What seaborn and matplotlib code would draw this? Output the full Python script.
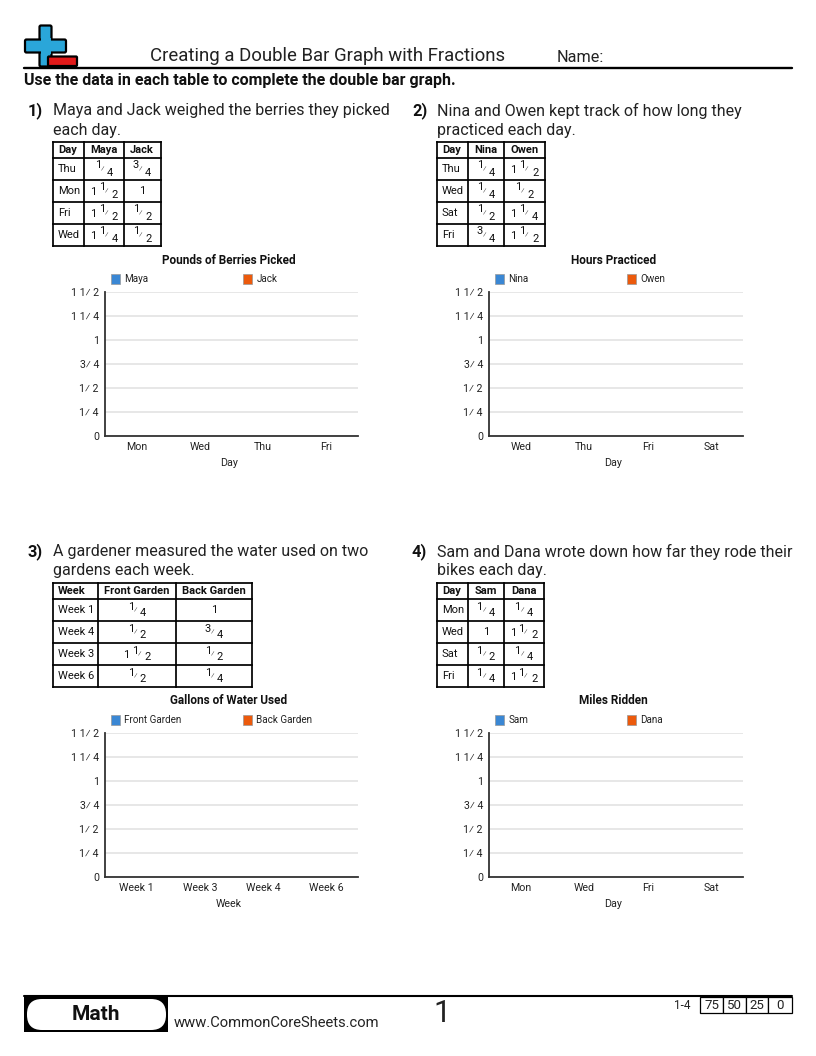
import pandas as pd
import numpy as np
import matplotlib
matplotlib.use('Agg')
import matplotlib.pyplot as plt
from matplotlib.patches import Rectangle, FancyBboxPatch
import seaborn as sns

sns.set_theme(style='white')
plt.rcParams['font.family'] = ['Roboto', 'DejaVu Sans']

W, H = 816, 1056
BLUE = '#3a87d4'
ORANGE = '#ec5a0c'
ICON_BLUE = '#2aa6d9'

# questions
questions = [
    ['Maya and Jack weighed the berries they picked', 'each day.'],
    ['Nina and Owen kept track of how long they', 'practiced each day.'],
    ['A gardener measured the water used on two', 'gardens each week.'],
    ['Sam and Dana wrote down how far they rode their', 'bikes each day.'],
]

# tables, fractions as strings
headers = [['Day', 'Maya', 'Jack'], ['Day', 'Nina', 'Owen'],
           ['Week', 'Front Garden', 'Back Garden'], ['Day', 'Sam', 'Dana']]
row_names = [['Thu', 'Mon', 'Fri', 'Wed'], ['Thu', 'Wed', 'Sat', 'Fri'],
             ['Week 1', 'Week 4', 'Week 3', 'Week 6'], ['Mon', 'Wed', 'Sat', 'Fri']]
col_a = [['1/4', '1 1/2', '1 1/2', '1 1/4'], ['1/4', '1/4', '1/2', '3/4'],
         ['1/4', '1/2', '1 1/2', '1/2'], ['1/4', '1', '1/2', '1/4']]
col_b = [['3/4', '1', '1/2', '1/2'], ['1 1/2', '1/2', '1 1/4', '1 1/2'],
         ['1', '3/4', '1/2', '1/4'], ['1/4', '1 1/2', '1/4', '1 1/2']]

# charts (blank on purpose, the student fills the bars in)
chart_titles = ['Pounds of Berries Picked', 'Hours Practiced', 'Gallons of Water Used', 'Miles Ridden']
x_names = ['Day', 'Day', 'Week', 'Day']
chart_cats = [['Mon', 'Wed', 'Thu', 'Fri'], ['Wed', 'Thu', 'Fri', 'Sat'],
              ['Week 1', 'Week 3', 'Week 4', 'Week 6'], ['Mon', 'Wed', 'Fri', 'Sat']]
bars_a = [0, 0, 0, 0]
bars_b = [0, 0, 0, 0]
y_ticks = [0, 0.25, 0.5, 0.75, 1, 1.25, 1.5]
y_labels = ['0', '1\u2044 4', '1\u2044 2', '3\u2044 4', '1', '1 1\u2044 4', '1 1\u2044 2']

# pixel placement of the four blocks
num_x = [28, 412, 28, 412]
text_x = [53, 437, 53, 437]
text_y = [110.5, 110.5, 551.5, 551.5]
col_edges = [[53, 84, 124, 160.5], [437, 468, 504, 544.5], [53, 98, 176, 252], [437, 468, 503.5, 543.5]]
row_tops = [142, 583]
row_steps = [0, 16, 38, 60, 82, 104]
plot_boxes = [(105, 292, 358, 436), (489, 292, 743, 436), (105, 733, 358, 877), (489, 733, 743, 877)]
legend_x = [(110.5, 242.5), (494.5, 626.5), (110.5, 242.5), (494.5, 626.5)]

fig = plt.figure(figsize=(W / 100, H / 100), dpi=100, facecolor='white')
page = fig.add_axes([0, 0, 1, 1], zorder=5)
page.set_xlim(0, W)
page.set_ylim(H, 0)
page.axis('off')
page.patch.set_alpha(0)


def fraction(x, y, s, size=8):
    # draws "1 1/2" or "1/4" around the cell centre x
    parts = s.split(' ')
    if '/' not in s:
        page.text(x, y, s, ha='center', va='center', fontsize=size, color='#111111')
        return
    a, b = parts[-1].split('/')
    if len(parts) == 2:
        page.text(x - 10.7, y + 1, parts[0], ha='center', va='center', fontsize=size, color='#111111')
        nx, sx, dx = x - 2, x + 2.5, x + 11
    else:
        nx, sx, dx = x - 6.3, x - 1.3, x + 6
    page.text(nx, y - 3.5, a, ha='center', va='center', fontsize=size, color='#111111')
    page.text(sx, y + 0.5, '\u2044', ha='center', va='center', fontsize=size - 2.5, color='#333333')
    page.text(dx, y + 3.5, b, ha='center', va='center', fontsize=size, color='#111111')


def draw_table(i):
    xs = col_edges[i]
    top = row_tops[i // 2]
    ys = [top + s for s in row_steps]
    for x in xs:
        page.plot([x, x], [ys[0], ys[-1]], color='black', lw=1.25, solid_capstyle='projecting')
    for y in ys:
        page.plot([xs[0], xs[-1]], [y, y], color='black', lw=1.25, solid_capstyle='projecting')
    for j, h in enumerate(headers[i]):
        if j == 0:
            page.text(xs[0] + 5, (ys[0] + ys[1]) / 2, h, ha='left', va='center', fontsize=8, fontweight='bold', color='#111111')
        else:
            page.text((xs[j] + xs[j + 1]) / 2, (ys[0] + ys[1]) / 2, h, ha='center', va='center', fontsize=8, fontweight='bold', color='#111111')
    for r in range(4):
        cy = (ys[r + 1] + ys[r + 2]) / 2
        page.text(xs[0] + 5, cy, row_names[i][r], ha='left', va='center', fontsize=8, color='#111111')
        fraction((xs[1] + xs[2]) / 2, cy, col_a[i][r])
        fraction((xs[2] + xs[3]) / 2, cy, col_b[i][r])


def draw_chart(i):
    x0, y0, x1, y1 = plot_boxes[i]
    ax = fig.add_axes([x0 / W, 1 - y1 / H, (x1 - x0) / W, (y1 - y0) / H])
    df = pd.DataFrame({
        'cat': chart_cats[i] * 2,
        'who': [headers[i][1]] * 4 + [headers[i][2]] * 4,
        'val': bars_a + bars_b,
    })
    sns.barplot(data=df, x='cat', y='val', hue='who', palette=[BLUE, ORANGE], ax=ax, legend=False)
    ax.set_ylim(0, 1.5)
    ax.set_yticks(y_ticks)
    ax.set_yticklabels(y_labels, fontsize=7.7, color='#222222')
    ax.tick_params(axis='x', labelsize=7.7, labelcolor='#222222', length=0, pad=4.5)
    ax.tick_params(axis='y', length=0, pad=4.4)
    ax.set_xlabel(x_names[i], fontsize=7.7, color='#222222')
    ax.xaxis.set_label_coords(0.49, -0.155)
    ax.set_ylabel('')
    ax.yaxis.grid(True, color='#e0e0e0', lw=1.1)
    ax.set_axisbelow(True)
    sns.despine(ax=ax)
    for side in ['left', 'bottom']:
        ax.spines[side].set_color('#333333')
        ax.spines[side].set_linewidth(1.3)
    mid = (x0 + x1) / 2 - 2.5
    page.text(mid, y0 - 32, chart_titles[i], ha='center', va='center', fontsize=8.5, fontweight='bold', color='#111111')
    lx = legend_x[i]
    for k, c in enumerate([BLUE, ORANGE]):
        page.add_patch(Rectangle((lx[k], y0 - 18), 9.5, 9.5, facecolor=c, edgecolor='#999999', lw=0.5))
        page.text(lx[k] + 14, y0 - 13, headers[i][k + 1], ha='left', va='center', fontsize=7.1, color='#222222')


# header icon
page.add_patch(FancyBboxPatch((41, 27), 9, 38, boxstyle='round,pad=1.5', fc=ICON_BLUE, ec='black', lw=1.6))
page.add_patch(FancyBboxPatch((26.5, 41), 38, 10, boxstyle='round,pad=1.5', fc=ICON_BLUE, ec='black', lw=1.6))
page.add_patch(Rectangle((40.5, 38), 10, 16, fc=ICON_BLUE, ec='none'))
page.add_patch(FancyBboxPatch((49, 57.5), 27, 7.5, boxstyle='round,pad=1', fc='#e21a1a', ec='black', lw=1.6))
page.plot([24, 792], [68, 68], color='black', lw=1.7)
page.text(150, 56, 'Creating a Double Bar Graph with Fractions', ha='left', va='center', fontsize=13.45, color='#222222')
page.text(557, 57, 'Name:', ha='left', va='center', fontsize=11.7, color='#222222')
page.text(24, 81, 'Use the data in each table to complete the double bar graph.', ha='left', va='center', fontsize=11.5, fontweight='bold', color='#111111')

for i in range(4):
    page.text(num_x[i], text_y[i], f'{i + 1})', ha='left', va='center', fontsize=11.8, fontweight='bold', color='#111111')
    for n, line in enumerate(questions[i]):
        page.text(text_x[i], text_y[i] + n * 19.5, line, ha='left', va='center', fontsize=11.55, color='#222222')
    draw_table(i)
    draw_chart(i)

# footer
page.plot([24, 792], [996, 996], color='black', lw=1.5)
page.add_patch(Rectangle((24, 996), 144, 36, fc='black', ec='none'))
page.add_patch(FancyBboxPatch((27, 999), 139, 31, boxstyle='round,pad=0,rounding_size=15', fc='white', ec='none'))
page.text(96, 1014.5, 'Math', ha='center', va='center', fontsize=15, fontweight='bold', color='#111111')
page.text(174, 1023, 'www.CommonCoreSheets.com', ha='left', va='center', fontsize=10.6, color='#222222')
page.text(442, 1014, '1', ha='center', va='center', fontsize=22, color='#222222')
page.text(682.5, 1005.5, '1-4', ha='center', va='center', fontsize=8.5, color='#222222')
score_edges = [700, 723, 746, 768, 792]
score_labels = ['75', '50', '25', '0']
for k, s in enumerate(score_labels):
    page.add_patch(Rectangle((score_edges[k], 997), score_edges[k + 1] - score_edges[k], 16, fc='white', ec='black', lw=0.9))
    page.text((score_edges[k] + score_edges[k + 1]) / 2, 1005.5, s, ha='center', va='center', fontsize=9.5, color='#222222')

fig.savefig('out.png', dpi=100)
